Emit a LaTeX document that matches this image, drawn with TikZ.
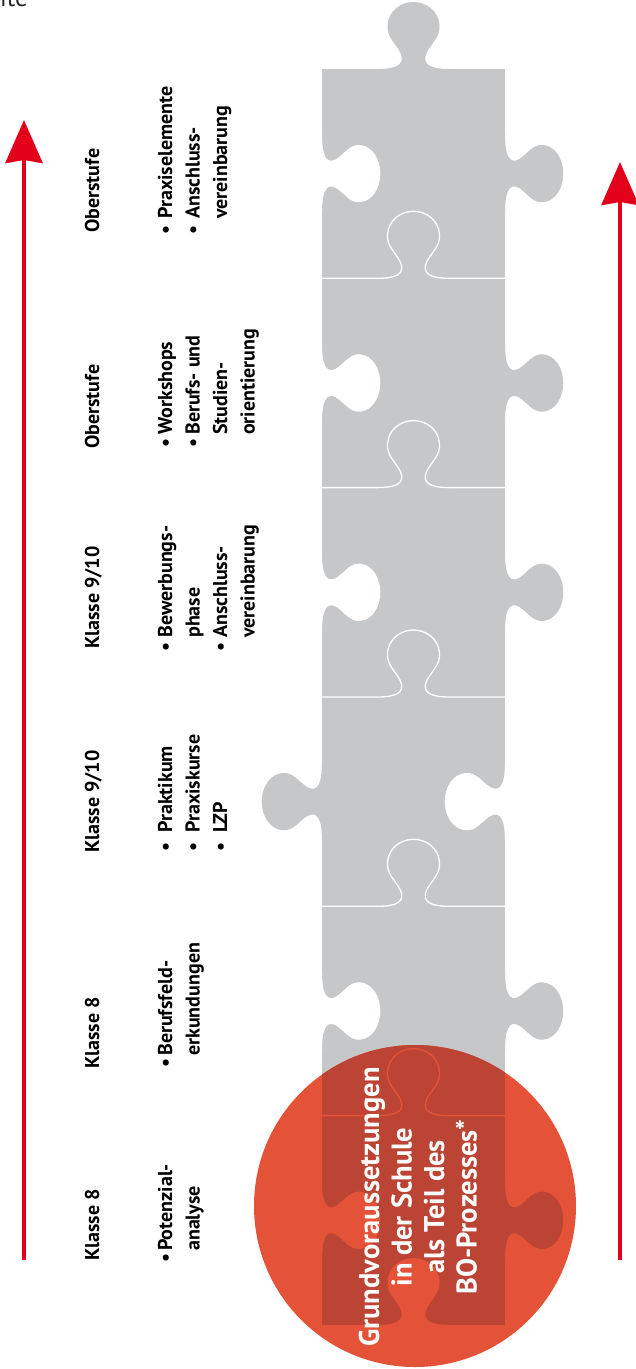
\documentclass[tikz,border=0pt]{standalone}
\usepackage{fontspec}
\setmainfont{PT Sans}
\usetikzlibrary{arrows.meta}
\definecolor{pgray}{HTML}{C6C7C9}
\definecolor{porange}{HTML}{E45238}
\definecolor{pdark}{HTML}{BC4434}
\definecolor{pred}{HTML}{E2001A}
% knob shape in local coordinates (edge along x, outward = +y)
\newcommand{\tabshape}{(-36,-3) -- (-36,0) .. controls (-18,0) and (-8,4) .. (-13,16) .. controls (-18,26) and (-27,32) .. (-26,44) .. controls (-25,58) and (-13,67) .. (0,67) .. controls (13,67) and (25,58) .. (26,44) .. controls (27,32) and (18,26) .. (13,16) .. controls (8,4) and (18,0) .. (36,0) -- (36,-3) -- cycle}
\newcommand{\seamshape}{(-91.5,0) -- (-36,0) .. controls (-18,0) and (-8,4) .. (-13,16) .. controls (-18,26) and (-27,32) .. (-26,44) .. controls (-25,58) and (-13,67) .. (0,67) .. controls (13,67) and (25,58) .. (26,44) .. controls (27,32) and (18,26) .. (13,16) .. controls (8,4) and (18,0) .. (36,0) -- (91.5,0)}
% vertical knob pointing up (image)
\newcommand{\upknob}[3]{\fill[#3, shift={(#1,#2)}, x={(1pt,0pt)}, y={(0pt,1pt)}] \tabshape;}
% horizontal knob: #3 = outward x-factor (+ right, - left)
\newcommand{\sideknob}[4]{\fill[#4, shift={(#1,#2)}, x={(0pt,1.1pt)}, y={(#3pt,0pt)}] \tabshape;}
\newcommand{\seamline}[2]{\draw[#2, line width=1.3pt, shift={(413.5,#1)}, x={(1pt,0pt)}, y={(0pt,1pt)}] \seamshape;}
\newcommand{\puzzle}[2]{%
  \fill[#1] (322,69) rectangle (505,1325);
  \upknob{413.5}{69}{#1}
  \sideknob{505}{173.6}{0.87}{#1}
  \sideknob{505}{383}{0.87}{#1}
  \sideknob{505}{592.3}{0.87}{#1}
  \sideknob{322}{801.6}{-0.9}{#1}
  \sideknob{505}{1011}{0.87}{#1}
  \sideknob{505}{1220.3}{0.87}{#1}
  \sideknob{322}{173.6}{0.87}{#2}
  \sideknob{322}{383}{0.87}{#2}
  \sideknob{322}{592.3}{0.87}{#2}
  \sideknob{505}{801.6}{-0.9}{#2}
  \sideknob{322}{1011}{0.87}{#2}
  \sideknob{322}{1220.3}{0.87}{#2}
  \upknob{413.5}{1325}{#2}
  \seamline{278.3}{#2}
  \seamline{487.6}{#2}
  \seamline{697}{#2}
  \seamline{906.3}{#2}
  \seamline{1115.6}{#2}
}
\tikzset{
  hdr/.style={rotate=90, anchor=base west, inner sep=0pt, font=\bfseries\fontsize{20}{24}\selectfont},
  lst/.style={rotate=90, anchor=base west, inner sep=0pt, font=\bfseries\fontsize{20}{27.5}\selectfont},
  redarrow/.style={draw=pred, line width=4pt, -{Stealth[length=43pt,width=37pt,inset=3pt]}},
}
\begin{document}
\begin{tikzpicture}[x=1pt,y=-1pt]
\useasboundingbox (0,0) rectangle (636,1369);
\fill[white] (0,0) rectangle (636,1369);
% cut-off page text
\node[anchor=base west, inner sep=0pt, font=\fontsize{25}{30}\selectfont, text=black!85] (ite) at (0,6) {ite};
% arrows
\coordinate (la0) at (24,1260);
\coordinate (la1) at (24,120);
\coordinate (ra0) at (620,1260);
\coordinate (ra1) at (620,162);
\draw[redarrow] (la0) -- (la1);
\draw[redarrow] (ra0) -- (ra1);
% puzzle
\puzzle{pgray}{white}
% red circle
\fill[porange] (415,1206) circle[radius=161];
\begin{scope}
  \clip (415,1206) circle[radius=161];
  \puzzle{pdark}{porange}
\end{scope}
\node[rotate=90, text=white, align=center, inner sep=0pt, font=\bfseries\fontsize{28.5}{32.5}\selectfont] (core) at (418,1207) {Grundvoraussetzungen\\in der Schule\\als Teil des\\BO-Prozesses*};
% headers
\node[hdr] (h1) at (99,1261) {Klasse 8};
\node[hdr] (h2) at (99,1069) {Klasse 8};
\node[hdr] (h3) at (99,853) {Klasse 9/10};
\node[hdr] (h4) at (99,649) {Klasse 9/10};
\node[hdr] (h5) at (99,449) {Oberstufe};
\node[hdr] (h6) at (99,233) {Oberstufe};
% lists
\node[lst] (l1) at (172,1263) {\begin{tabular}[t]{@{}l@{\hspace{3pt}}l@{}}\textbullet & Potenzial-\\ & analyse\end{tabular}};
\node[lst] (l2) at (172,1068) {\begin{tabular}[t]{@{}l@{\hspace{3pt}}l@{}}\textbullet & Berufsfeld-\\ & erkundungen\end{tabular}};
\node[lst] (l3) at (172,852) {\begin{tabular}[t]{@{}l@{\hspace{10pt}}l@{}}\textbullet & Praktikum\\ \textbullet & Praxiskurse\\ \textbullet & LZP\end{tabular}};
\node[lst] (l4) at (172,652) {\begin{tabular}[t]{@{}l@{\hspace{5pt}}l@{}}\textbullet & Bewerbungs-\\ & phase\\ \textbullet & Anschluss-\\ & vereinbarung\end{tabular}};
\node[lst] (l5) at (172,448) {\begin{tabular}[t]{@{}l@{\hspace{4pt}}l@{}}\textbullet & Workshops\\ \textbullet & Berufs- und\\ & Studien-\\ & orientierung\end{tabular}};
\node[lst] (l6) at (172,235) {\begin{tabular}[t]{@{}l@{\hspace{7pt}}l@{}}\textbullet & Praxiselemente\\ \textbullet & Anschluss-\\ & vereinbarung\end{tabular}};
\end{tikzpicture}
\end{document}
